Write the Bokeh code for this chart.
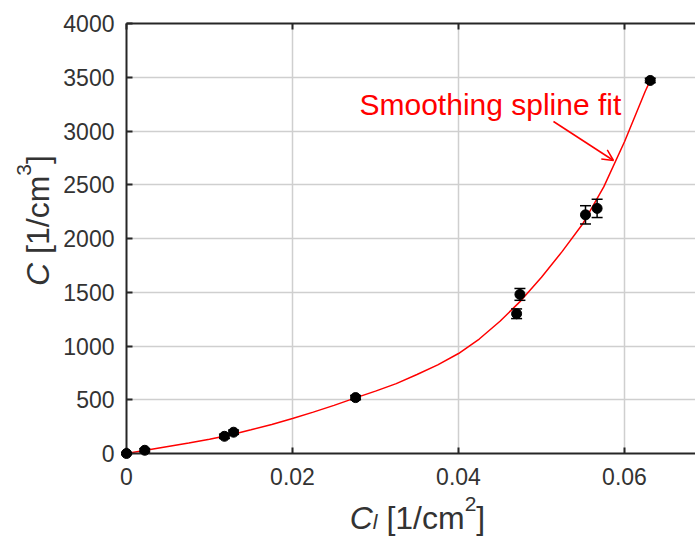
import math
from bokeh.plotting import figure
from bokeh.models import (Label, Arrow, OpenHead, FixedTicker, LinearAxis, Range1d,
                          CustomJSTickFormatter, ColumnDataSource)
from bokeh.core.properties import value
from bokeh.embed import file_html
from bokeh.resources import INLINE

# ---------------- data ----------------
cl_vals = [0.0, 0.0022, 0.0118, 0.0129, 0.0276, 0.0470, 0.0474, 0.0553, 0.0567, 0.0631]
c_vals = [0, 30, 160, 198, 520, 1300, 1480, 2220, 2280, 3470]
c_err = [10, 15, 20, 20, 20, 45, 55, 85, 85, 20]

fit_x = [0.0, 0.0025, 0.005, 0.0075, 0.01, 0.0125, 0.015, 0.0175, 0.02, 0.0225, 0.025,
         0.0275, 0.03, 0.0325, 0.035, 0.0375, 0.04, 0.0425, 0.045, 0.0475, 0.05, 0.0525,
         0.055, 0.0575, 0.06, 0.0625, 0.0631]
fit_y = [0, 33, 66, 98, 132, 172, 220, 270, 325, 385, 448, 515, 580, 650, 735, 825, 930,
         1065, 1230, 1420, 1640, 1880, 2140, 2480, 2900, 3370, 3470]

x_ticks = [0, 0.02, 0.04, 0.06]
x_tick_labels = ["0", "0.02", "0.04", "0.06"]
y_ticks = [0, 500, 1000, 1500, 2000, 2500, 3000, 3500, 4000]

# ---------------- layout ----------------
W, H = 695, 539
LEFT, TOP, BOTTOM_PX = 126, 23, 453
PX_PER_X = 8300.0
X_MAX = (W - LEFT) / PX_PER_X
Y_MAX = 4000
PX_PER_Y = (BOTTOM_PX - TOP) / Y_MAX

FONT = "Liberation Sans"
AX_COLOR = "#262626"
TXT_COLOR = "#333333"

def dx(px):
    return (px - LEFT) / PX_PER_X

def dy(py):
    return (BOTTOM_PX - py) / PX_PER_Y

p = figure(width=W, height=H, x_range=Range1d(0, X_MAX), y_range=Range1d(0, Y_MAX),
           output_backend="svg", toolbar_location=None,
           min_border_left=LEFT, min_border_right=0, min_border_top=TOP,
           min_border_bottom=H - BOTTOM_PX)
p.outline_line_color = None
p.background_fill_color = "white"
p.border_fill_color = "white"

bottom_axis = p.below[0]
left_axis = p.left[0]

top_axis = LinearAxis(ticker=FixedTicker(ticks=x_ticks),
                      formatter=CustomJSTickFormatter(code="return ''"))
p.add_layout(top_axis, "above")

bottom_axis.ticker = FixedTicker(ticks=x_ticks)
bottom_axis.major_label_overrides = {t: l for t, l in zip(x_ticks, x_tick_labels)}
left_axis.ticker = FixedTicker(ticks=y_ticks)

for ax in [bottom_axis, left_axis, top_axis]:
    ax.axis_line_color = AX_COLOR
    ax.axis_line_width = 2
    ax.major_tick_line_color = AX_COLOR
    ax.major_tick_line_width = 2
    ax.major_tick_in = 6
    ax.major_tick_out = 0
    ax.minor_tick_line_color = None
    ax.major_label_text_font = FONT
    ax.major_label_text_font_size = "23px"
    ax.major_label_text_color = TXT_COLOR
bottom_axis.major_label_standoff = 14
left_axis.major_label_standoff = 12

p.xgrid.ticker = FixedTicker(ticks=x_ticks[1:])
p.ygrid.ticker = FixedTicker(ticks=y_ticks[1:])
for g in [p.xgrid, p.ygrid]:
    g.grid_line_color = "#cfcfcf"
    g.grid_line_width = 1.5

# ---------------- fit curve ----------------
p.line(fit_x, fit_y, line_color="#ff0000", line_width=1.5)

# ---------------- error bars and points ----------------
lo = [c - e for c, e in zip(c_vals, c_err)]
hi = [c + e for c, e in zip(c_vals, c_err)]
src = ColumnDataSource(dict(x=cl_vals, y=c_vals, lo=lo, hi=hi))
p.segment(x0="x", y0="lo", x1="x", y1="hi", source=src, line_color="black",
          line_width=1.5, level="overlay")
p.scatter(x="x", y="lo", source=src, marker="dash", size=11, line_color="black",
          line_width=1.5, level="overlay")
p.scatter(x="x", y="hi", source=src, marker="dash", size=11, line_color="black",
          line_width=1.5, level="overlay")
p.scatter(x="x", y="y", source=src, marker="circle", size=10, fill_color="black",
          line_color="black", level="overlay")

# ---------------- annotation ----------------
p.add_layout(Label(x=dx(359), y=dy(104), text="Smoothing spline fit",
                   text_color="#ff0000", text_font=FONT, text_font_size="30px",
                   text_baseline="alphabetic", text_align="left"))
p.add_layout(Arrow(end=OpenHead(size=11, line_color="#ff0000", line_width=1.5),
                   x_start=dx(553), y_start=dy(121), x_end=dx(613), y_end=dy(160),
                   line_color="#ff0000", line_width=1.5))

# ---------------- axis labels (composed, with sub/superscripts) ----------------
AW = {'C': 722, 'l': 222, ' ': 278, '[': 278, ']': 278, '1': 556, '/': 278,
      'c': 500, 'm': 833, '2': 556, '3': 556}

def tw(s, size):
    return sum(AW[ch] for ch in s) / 1000.0 * size

# parts: (text, font size, style, baseline shift px, gap before px)
def compose(parts, start_px, base_px, vertical=False):
    pos = 0.0
    for text, size, style, shift, gap in parts:
        pos += gap
        if not vertical:
            x_px = start_px + pos
            y_px = base_px - shift
            ang = 0.0
        else:
            x_px = base_px - shift
            y_px = start_px - pos
            ang = math.pi / 2
        p.text(x=[dx(x_px)], y=[dy(y_px)], text=[text], angle=ang,
               text_font=value(FONT), text_font_size=value(f"{size}px"),
               text_font_style=value(style), text_color=TXT_COLOR,
               text_align="left", text_baseline="alphabetic", level="overlay")
        pos += tw(text, size)
    return pos

def total(parts):
    return sum(tw(t, s) + g for t, s, _, _, g in parts)

LS, SS = 32, 21
xlab = [("C", LS, "italic", 0, 0), ("l", SS, "italic", -4, 0),
        ("[1/cm", LS, "normal", 0, 0.278 * LS),
        ("2", SS, "normal", 14, 0), ("]", LS, "normal", 0, 0)]
compose(xlab, 417 - total(xlab) / 2, 517)

ylab = [("C", LS, "italic", 0, 0), ("[1/cm", LS, "normal", 0, 0.278 * LS),
        ("3", SS, "normal", 14, 0), ("]", LS, "normal", 0, 0)]
compose(ylab, 220 + total(ylab) / 2, 37, vertical=True)

open("out.html", "w").write(file_html(p, INLINE))
